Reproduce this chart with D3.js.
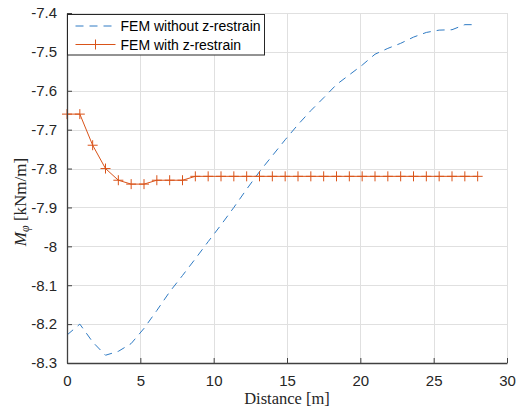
<!DOCTYPE html>
<html>
<head>
<meta charset="utf-8">
<script src="https://cdn.jsdelivr.net/npm/d3@7"></script>
<style>
  body { margin: 0; background: #fff; }
  svg text { font-family: "Liberation Sans", Arial, Helvetica, sans-serif; }
</style>
</head>
<body>
<svg id="chart" width="518" height="414"></svg>
<script>
// Distance along the section [m]
const distance = [0, 0.875, 1.75, 2.625, 3.5, 4.375, 5.25, 6.125, 7, 7.875, 8.75, 9.625,
  10.5, 11.375, 12.25, 13.125, 14, 14.875, 15.75, 16.625, 17.5, 18.375, 19.25, 20.125,
  21, 21.875, 22.75, 23.625, 24.5, 25.375, 26.25, 27.125, 28];

// Bending moment M_phi [kNm/m]
const withoutRestrain = [-8.228, -8.200, -8.246, -8.280, -8.270, -8.250, -8.211, -8.165,
  -8.117, -8.075, -8.032, -7.988, -7.945, -7.900, -7.853, -7.808, -7.767, -7.726, -7.687,
  -7.651, -7.618, -7.584, -7.559, -7.534, -7.506, -7.491, -7.478, -7.462, -7.450, -7.444,
  -7.443, -7.430, -7.430];
const withRestrain = [-7.66, -7.66, -7.74, -7.80, -7.83, -7.84, -7.84, -7.83, -7.83, -7.83,
  -7.82, -7.82, -7.82, -7.82, -7.82, -7.82, -7.82, -7.82, -7.82, -7.82, -7.82, -7.82,
  -7.82, -7.82, -7.82, -7.82, -7.82, -7.82, -7.82, -7.82, -7.82, -7.82, -7.82];

const seriesNames = ["FEM without z-restrain", "FEM with z-restrain"];
const xTicks = [0, 5, 10, 15, 20, 25, 30];
const yTicks = [-8.3, -8.2, -8.1, -8, -7.9, -7.8, -7.7, -7.6, -7.5, -7.4];
const yTickLabels = ["-8.3", "-8.2", "-8.1", "-8", "-7.9", "-7.8", "-7.7", "-7.6", "-7.5", "-7.4"];

const W = 518, H = 414;
const margin = { left: 67, top: 13, right: 11, bottom: 51 };
const iw = W - margin.left - margin.right;
const ih = H - margin.top - margin.bottom;

const blue = "#2f7bc4", red = "#D95319";

const svg = d3.select("#chart");
const g = svg.append("g").attr("transform", `translate(${margin.left},${margin.top})`);

const x = d3.scaleLinear().domain([0, 30]).range([0, iw]);
const y = d3.scaleLinear().domain([-8.3, -7.4]).range([ih, 0]);

// grid
g.append("g").selectAll("line").data(xTicks).join("line")
  .attr("x1", d => Math.round(x(d)) + 0.5).attr("x2", d => Math.round(x(d)) + 0.5)
  .attr("y1", 0).attr("y2", ih)
  .attr("stroke", "#e0e0e0").attr("stroke-width", 1);
g.append("g").selectAll("line").data(yTicks).join("line")
  .attr("y1", d => Math.round(y(d)) + 0.5).attr("y2", d => Math.round(y(d)) + 0.5)
  .attr("x1", 0).attr("x2", iw)
  .attr("stroke", "#e0e0e0").attr("stroke-width", 1);

// series
const line = (vals) => d3.line().x((d, i) => x(distance[i])).y(d => y(d))(vals);

g.append("path").attr("d", line(withoutRestrain))
  .attr("fill", "none").attr("stroke", blue).attr("stroke-width", 1)
  .attr("stroke-dasharray", "8,6");

g.append("path").attr("d", line(withRestrain))
  .attr("fill", "none").attr("stroke", red).attr("stroke-width", 1);

const plus = (sel, s) => sel.attr("d", `M${-s},0H${s}M0,${-s}V${s}`)
  .attr("fill", "none").attr("stroke", red).attr("stroke-width", 1);

g.append("g").selectAll("path").data(withRestrain).join("path")
  .attr("transform", (d, i) => `translate(${x(distance[i])},${y(d)})`)
  .call(plus, 5);

// axes
const xAxis = d3.axisBottom(x).tickValues(xTicks).tickSizeInner(-5).tickSizeOuter(0).tickPadding(12)
  .tickFormat(d => String(d));
const yAxis = d3.axisLeft(y).tickValues(yTicks).tickSizeInner(-5).tickSizeOuter(0).tickPadding(10)
  .tickFormat((d, i) => yTickLabels[i]);

const gx = g.append("g").attr("transform", `translate(0,${ih})`).call(xAxis);
const gy = g.append("g").call(yAxis);
[gx, gy].forEach(a => {
  a.select(".domain").attr("stroke", "#404040").attr("stroke-width", 1.3);
  a.selectAll(".tick line").attr("stroke", "#404040");
  a.selectAll(".tick text").attr("fill", "#262626").style("font-size", "15px")
    .style("font-family", '"Liberation Sans", Arial, Helvetica, sans-serif');
});

// axis labels
svg.append("text")
  .attr("x", margin.left + iw / 2).attr("y", 404)
  .attr("text-anchor", "middle")
  .style("font-family", '"Liberation Serif", "Times New Roman", serif')
  .style("font-size", "16.5px").attr("fill", "#262626")
  .text("Distance [m]");

const yl = svg.append("text")
  .attr("transform", `translate(26,${margin.top + ih / 2 + 14}) rotate(-90)`)
  .attr("text-anchor", "middle")
  .style("font-family", '"Liberation Serif", "Times New Roman", serif')
  .style("font-size", "17px").attr("fill", "#262626");
yl.append("tspan").style("font-style", "italic").text("M");
yl.append("tspan").style("font-style", "italic").style("font-size", "12px").attr("dy", 3).text("φ");
yl.append("tspan").attr("dy", -3).text(" [kNm/m]");

// legend
const lg = svg.append("g").attr("transform", "translate(67.5,14.5)");
lg.append("rect").attr("width", 197).attr("height", 40.5)
  .attr("fill", "#fff").attr("stroke", "#262626").attr("stroke-width", 1);
const rows = [
  { name: seriesNames[0], color: blue, dash: "8,6", marker: false, yy: 11.5 },
  { name: seriesNames[1], color: red, dash: null, marker: true, yy: 30 }
];
rows.forEach(r => {
  lg.append("line").attr("x1", 8).attr("x2", 48).attr("y1", r.yy).attr("y2", r.yy)
    .attr("stroke", r.color).attr("stroke-width", 1)
    .attr("stroke-dasharray", r.dash);
  if (r.marker) {
    lg.append("path").attr("transform", `translate(28,${r.yy})`).call(plus, 5);
  }
  lg.append("text").attr("x", 53).attr("y", r.yy + 5)
    .style("font-size", "14px").attr("fill", "#000").text(r.name);
});
</script>
</body>
</html>
